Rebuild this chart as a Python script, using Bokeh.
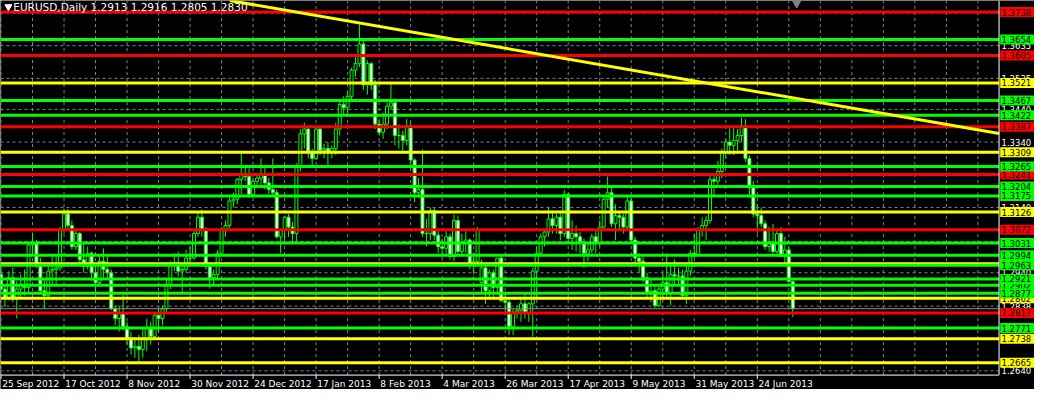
import numpy as np
from bokeh.plotting import figure
from bokeh.models import Range1d
from bokeh.core.properties import value
from bokeh.embed import file_html
from bokeh.resources import INLINE

# ---------------- data ----------------
title_text = "EURUSD,Daily  1.2913 1.2916 1.2805 1.2830"

opens = [1.2935, 1.2890, 1.2865, 1.2925, 1.2860, 1.2890, 1.2905, 1.2895, 1.3025, 1.3030,
         1.2960, 1.2885, 1.2870, 1.2945, 1.2950, 1.2955, 1.3070, 1.3120, 1.3085, 1.3020,
         1.3060, 1.2980, 1.2960, 1.3000, 1.2940, 1.2910, 1.2975, 1.2950, 1.2940, 1.2830,
         1.2800, 1.2815, 1.2775, 1.2740, 1.2710, 1.2715, 1.2705, 1.2740, 1.2770, 1.2745,
         1.2810, 1.2800, 1.2830, 1.2905, 1.2965, 1.2970, 1.2945, 1.2950, 1.2985, 1.2985,
         1.3060, 1.3110, 1.3070, 1.2960, 1.2925, 1.2935, 1.3000, 1.3070, 1.3085, 1.3160,
         1.3165, 1.3225, 1.3240, 1.3235, 1.3180, 1.3220, 1.3230, 1.3240, 1.3215, 1.3195,
         1.3185, 1.3050, 1.3070, 1.3110, 1.3080, 1.3060, 1.3265, 1.3365, 1.3380, 1.3310,
         1.3290, 1.3380, 1.3315, 1.3320, 1.3310, 1.3320, 1.3380, 1.3455, 1.3445, 1.3480,
         1.3560, 1.3580, 1.3640, 1.3515, 1.3580, 1.3515, 1.3395, 1.3370, 1.3395, 1.3450,
         1.3460, 1.3360, 1.3360, 1.3345, 1.3390, 1.3285, 1.3185, 1.3195, 1.3060, 1.3060,
         1.3130, 1.3055, 1.3020, 1.3015, 1.3050, 1.2990, 1.3100, 1.3005, 1.3030, 1.3040,
         1.2965, 1.2975, 1.2910, 1.2955, 1.2885, 1.2940, 1.2895, 1.2985, 1.2855, 1.2850,
         1.2775, 1.2820, 1.2825, 1.2845, 1.2815, 1.2845, 1.2945, 1.3000, 1.3050, 1.3065,
         1.3105, 1.3085, 1.3110, 1.3060, 1.3180, 1.3045, 1.3060, 1.3050, 1.3035, 1.3000,
         1.3010, 1.3050, 1.3030, 1.3080, 1.3165, 1.3185, 1.3090, 1.3115, 1.3110, 1.3080,
         1.3160, 1.3040, 1.2985, 1.2975, 1.2925, 1.2880, 1.2885, 1.2840, 1.2890, 1.2910,
         1.2875, 1.2935, 1.2930, 1.2930, 1.2870, 1.2945, 1.3000, 1.2995, 1.3070, 1.3085,
         1.3100, 1.3225, 1.3220, 1.3250, 1.3310, 1.3340, 1.3330, 1.3345, 1.3360, 1.3390,
         1.3290, 1.3200, 1.3120, 1.3115, 1.3090, 1.3020, 1.3030, 1.3005, 1.3060, 1.2990,
         1.3010, 1.2913]
highs = [1.2960, 1.2905, 1.2945, 1.2955, 1.2915, 1.2935, 1.2950, 1.3035, 1.3063, 1.3040,
         1.2985, 1.2920, 1.2965, 1.2990, 1.2990, 1.3080, 1.3136, 1.3135, 1.3100, 1.3070,
         1.3065, 1.3030, 1.3020, 1.3005, 1.2960, 1.2990, 1.3015, 1.2990, 1.2950, 1.2840,
         1.2840, 1.2880, 1.2790, 1.2760, 1.2740, 1.2750, 1.2770, 1.2800, 1.2790, 1.2820,
         1.2830, 1.2840, 1.2920, 1.2975, 1.3000, 1.3005, 1.2960, 1.3010, 1.3020, 1.3075,
         1.3125, 1.3133, 1.3080, 1.2970, 1.2950, 1.3010, 1.3080, 1.3100, 1.3170, 1.3185,
         1.3230, 1.3308, 1.3270, 1.3260, 1.3230, 1.3245, 1.3290, 1.3265, 1.3230, 1.3290,
         1.3195, 1.3075, 1.3115, 1.3120, 1.3095, 1.3275, 1.3380, 1.3400, 1.3390, 1.3320,
         1.3390, 1.3385, 1.3335, 1.3340, 1.3330, 1.3400, 1.3465, 1.3480, 1.3495, 1.3567,
         1.3600, 1.3700, 1.3650, 1.3590, 1.3585, 1.3530, 1.3410, 1.3430, 1.3460, 1.3518,
         1.3470, 1.3395, 1.3375, 1.3410, 1.3400, 1.3290, 1.3230, 1.3318, 1.3105, 1.3140,
         1.3140, 1.3075, 1.3045, 1.3070, 1.3060, 1.3118, 1.3115, 1.3060, 1.3075, 1.3045,
         1.3000, 1.3080, 1.2980, 1.2965, 1.2950, 1.2950, 1.2985, 1.2995, 1.2880, 1.2865,
         1.2830, 1.2840, 1.2860, 1.2880, 1.2850, 1.2955, 1.3020, 1.3060, 1.3075, 1.3140,
         1.3130, 1.3120, 1.3130, 1.3194, 1.3185, 1.3100, 1.3085, 1.3065, 1.3045, 1.3030,
         1.3060, 1.3070, 1.3100, 1.3170, 1.3235, 1.3200, 1.3150, 1.3130, 1.3120, 1.3175,
         1.3170, 1.3050, 1.3000, 1.2990, 1.2940, 1.2920, 1.2900, 1.2900, 1.2940, 1.3000,
         1.2960, 1.2980, 1.2955, 1.2950, 1.2960, 1.3010, 1.3060, 1.3080, 1.3110, 1.3115,
         1.3240, 1.3245, 1.3282, 1.3320, 1.3350, 1.3390, 1.3390, 1.3380, 1.3415, 1.3410,
         1.3300, 1.3220, 1.3150, 1.3140, 1.3100, 1.3080, 1.3090, 1.3070, 1.3080, 1.3050,
         1.3020, 1.2916]
lows = [1.2880, 1.2835, 1.2855, 1.2850, 1.2800, 1.2860, 1.2870, 1.2880, 1.2995, 1.2955,
        1.2880, 1.2830, 1.2860, 1.2900, 1.2900, 1.2945, 1.3060, 1.3070, 1.3010, 1.3010,
        1.2960, 1.2940, 1.2950, 1.2915, 1.2880, 1.2900, 1.2925, 1.2920, 1.2825, 1.2780,
        1.2760, 1.2765, 1.2720, 1.2690, 1.2680, 1.2665, 1.2680, 1.2700, 1.2720, 1.2735,
        1.2760, 1.2780, 1.2820, 1.2890, 1.2945, 1.2930, 1.2880, 1.2940, 1.2960, 1.2980,
        1.3050, 1.3050, 1.2950, 1.2891, 1.2900, 1.2920, 1.2990, 1.3050, 1.3075, 1.3140,
        1.3150, 1.3180, 1.3220, 1.3170, 1.3175, 1.3200, 1.3210, 1.3195, 1.3180, 1.3175,
        1.3045, 1.3000, 1.3040, 1.3050, 1.3030, 1.3030, 1.3250, 1.3320, 1.3290, 1.3265,
        1.3285, 1.3300, 1.3290, 1.3270, 1.3290, 1.3300, 1.3360, 1.3420, 1.3425, 1.3470,
        1.3540, 1.3570, 1.3500, 1.3485, 1.3500, 1.3380, 1.3360, 1.3350, 1.3380, 1.3440,
        1.3330, 1.3320, 1.3312, 1.3330, 1.3275, 1.3156, 1.3170, 1.3050, 1.3020, 1.3040,
        1.3040, 1.3000, 1.2985, 1.2990, 1.2980, 1.2975, 1.2990, 1.2990, 1.3000, 1.2950,
        1.2935, 1.2970, 1.2880, 1.2845, 1.2860, 1.2860, 1.2880, 1.2850, 1.2815, 1.2750,
        1.2750, 1.2800, 1.2790, 1.2800, 1.2790, 1.2744, 1.2860, 1.2990, 1.3020, 1.3050,
        1.3060, 1.3060, 1.3040, 1.3050, 1.3030, 1.3010, 1.3005, 1.3000, 1.2955, 1.2975,
        1.3000, 1.3000, 1.3020, 1.3070, 1.3140, 1.3080, 1.3040, 1.3070, 1.3060, 1.3070,
        1.3030, 1.2960, 1.2940, 1.2910, 1.2860, 1.2850, 1.2833, 1.2835, 1.2855, 1.2865,
        1.2840, 1.2905, 1.2905, 1.2860, 1.2845, 1.2930, 1.2985, 1.2990, 1.3050, 1.3040,
        1.3090, 1.3175, 1.3200, 1.3230, 1.3290, 1.3300, 1.3300, 1.3310, 1.3340, 1.3280,
        1.3170, 1.3110, 1.3060, 1.3080, 1.3010, 1.3005, 1.2990, 1.2990, 1.2990, 1.2960,
        1.2915, 1.2805]
closes = [1.2890, 1.2865, 1.2925, 1.2860, 1.2890, 1.2905, 1.2895, 1.3025, 1.3030, 1.2960,
          1.2885, 1.2870, 1.2945, 1.2950, 1.2955, 1.3070, 1.3120, 1.3085, 1.3020, 1.3060,
          1.2980, 1.2960, 1.3000, 1.2940, 1.2910, 1.2975, 1.2950, 1.2940, 1.2830, 1.2800,
          1.2815, 1.2775, 1.2740, 1.2710, 1.2715, 1.2705, 1.2740, 1.2770, 1.2745, 1.2810,
          1.2800, 1.2830, 1.2905, 1.2965, 1.2970, 1.2945, 1.2950, 1.2985, 1.2985, 1.3060,
          1.3110, 1.3070, 1.2960, 1.2925, 1.2935, 1.3000, 1.3070, 1.3085, 1.3160, 1.3165,
          1.3225, 1.3240, 1.3235, 1.3180, 1.3220, 1.3230, 1.3240, 1.3215, 1.3195, 1.3185,
          1.3050, 1.3070, 1.3110, 1.3080, 1.3060, 1.3265, 1.3365, 1.3380, 1.3310, 1.3290,
          1.3380, 1.3315, 1.3320, 1.3310, 1.3320, 1.3380, 1.3455, 1.3445, 1.3480, 1.3560,
          1.3580, 1.3640, 1.3515, 1.3580, 1.3515, 1.3395, 1.3370, 1.3395, 1.3450, 1.3460,
          1.3360, 1.3360, 1.3345, 1.3390, 1.3285, 1.3185, 1.3195, 1.3060, 1.3060, 1.3130,
          1.3055, 1.3020, 1.3015, 1.3050, 1.2990, 1.3100, 1.3005, 1.3030, 1.3040, 1.2965,
          1.2975, 1.3070, 1.2955, 1.2885, 1.2940, 1.2895, 1.2985, 1.2855, 1.2850, 1.2775,
          1.2820, 1.2825, 1.2845, 1.2815, 1.2845, 1.2945, 1.3000, 1.3050, 1.3065, 1.3105,
          1.3085, 1.3110, 1.3060, 1.3180, 1.3045, 1.3060, 1.3050, 1.3035, 1.3000, 1.3010,
          1.3050, 1.3030, 1.3080, 1.3165, 1.3185, 1.3090, 1.3115, 1.3110, 1.3080, 1.3160,
          1.3040, 1.2985, 1.2975, 1.2925, 1.2880, 1.2885, 1.2840, 1.2890, 1.2910, 1.2875,
          1.2935, 1.2930, 1.2930, 1.2870, 1.2945, 1.3000, 1.2995, 1.3070, 1.3085, 1.3100,
          1.3225, 1.3220, 1.3250, 1.3310, 1.3340, 1.3330, 1.3345, 1.3360, 1.3390, 1.3290,
          1.3200, 1.3120, 1.3115, 1.3090, 1.3020, 1.3030, 1.3005, 1.3060, 1.2990, 1.3010,
          1.2913, 1.2830]
bid_price = 1.2830

date_labels = ["25 Sep 2012", "17 Oct 2012", "8 Nov 2012", "30 Nov 2012", "24 Dec 2012",
               "17 Jan 2013", "8 Feb 2013", "4 Mar 2013", "26 Mar 2013", "17 Apr 2013",
               "9 May 2013", "31 May 2013", "24 Jun 2013"]
date_label_bars = [0, 16, 32, 48, 64, 80, 96, 112, 128, 144, 160, 176, 192]
grid_bar_step = 8

grid_prices = [1.2640, 1.2740, 1.2838, 1.2940, 1.3036, 1.3140, 1.3240, 1.3340,
               1.3440, 1.3535, 1.3635, 1.3735]
grid_labels = ["1.2640", "1.2740", "1.2838", "1.2940", "1.3036", "1.3140", "1.3240",
               "1.3340", "1.3440", "1.3535", "1.3635", "1.3735"]

# horizontal level objects, in drawing order
level_prices = [1.2968, 1.2902, 1.2862, 1.3241, 1.3738, 1.3654, 1.3605, 1.3521, 1.3467,
                1.3422, 1.3387, 1.3309, 1.3265, 1.3204, 1.3175, 1.3126, 1.3072, 1.3031,
                1.2994, 1.2963, 1.2921, 1.2877, 1.2817, 1.2771, 1.2738, 1.2665]
level_labels = ["1.2968", "1.2902", "1.2862", "1.3241", "1.3738", "1.3654", "1.3605",
                "1.3521", "1.3467", "1.3422", "1.3387", "1.3309", "1.3265", "1.3204",
                "1.3175", "1.3126", "1.3072", "1.3031", "1.2994", "1.2963", "1.2921",
                "1.2877", "1.2817", "1.2771", "1.2738", "1.2665"]
level_kinds = ["yellow", "lime", "yellow", "red", "red", "lime", "red", "yellow", "lime",
               "lime", "red", "yellow", "lime", "lime", "lime", "yellow", "red", "lime",
               "lime", "lime", "lime", "lime", "red", "lime", "yellow", "yellow"]

# trend line anchors (bar index, price)
trend_bars = [58.1, 253.4]
trend_prices = [1.3773, 1.3366]

# ---------------- styling / layout ----------------
PALETTE = {"red": "#FF0000", "lime": "#00FF00", "yellow": "#FFFF00"}
LIME = "#00FF00"
GRID = "#778899"
FONT = value("DejaVu Sans")

W, H = 1034, 389            # page area (window minus 8px margins)
REF_W, REF_H = 1050, 405    # original terminal picture size
BAR_PX, BAR0_PX = 4.0, 0.5  # MT4 scale: 4 px per bar
PX_PER_PRICE, PRICE_AT, PRICE_AT_Y = 3402.0, 1.3738, 12.0


def bx(xr):
    return (xr - BAR0_PX) / BAR_PX


def py(yr):
    return PRICE_AT - (yr - PRICE_AT_Y) / PX_PER_PRICE


AX_X = bx(1014)     # right price-axis line
AX_Y = py(390)      # bottom time-axis line
X_START = bx(0)
X_END = bx(REF_W)
TOP = py(0)

p = figure(width=W, height=H,
           x_range=Range1d(X_START, X_END), y_range=Range1d(py(REF_H), TOP),
           toolbar_location=None, output_backend="svg",
           x_axis_location=None, y_axis_location=None,
           min_border=0, min_border_left=0, min_border_right=0,
           min_border_top=0, min_border_bottom=0,
           background_fill_color="black", border_fill_color="black",
           outline_line_color=None)
p.grid.visible = False

# grid
gx = list(range(0, int(AX_X) + 1, grid_bar_step))
p.segment(x0=gx, y0=[AX_Y] * len(gx), x1=gx, y1=[TOP] * len(gx),
          line_color=GRID, line_width=1, line_dash="3 3")
p.segment(x0=[X_START] * len(grid_prices), y0=grid_prices,
          x1=[AX_X] * len(grid_prices), y1=grid_prices,
          line_color=GRID, line_width=1, line_dash="3 3")

# candles
o = np.array(opens); h = np.array(highs); l = np.array(lows); c = np.array(closes)
idx = np.arange(len(o))
bull = c >= o
p.segment(x0=idx, y0=l, x1=idx, y1=h, line_color=LIME, line_width=1)
p.vbar(x=idx[bull], width=0.75, top=c[bull], bottom=o[bull],
       fill_color="black", line_color=LIME, line_width=1)
p.vbar(x=idx[~bull], width=0.75, top=o[~bull], bottom=c[~bull],
       fill_color="white", line_color=LIME, line_width=1)

# bid line
p.segment(x0=[X_START], y0=[bid_price], x1=[AX_X], y1=[bid_price],
          line_color="#909090", line_width=1)

# horizontal level lines
n = len(level_prices)
p.segment(x0=[X_START] * n, y0=level_prices, x1=[AX_X] * n, y1=level_prices,
          line_color=[PALETTE[k] for k in level_kinds], line_width=3)

# trend line
p.line(trend_bars, trend_prices, line_color="#FFFF00", line_width=3)

# axes lines and ticks
p.segment(x0=[AX_X], y0=[AX_Y], x1=[AX_X], y1=[TOP], line_color="white", line_width=1)
p.segment(x0=[X_START], y0=[AX_Y], x1=[AX_X], y1=[AX_Y], line_color="white", line_width=1)
p.segment(x0=date_label_bars, y0=[AX_Y] * len(date_label_bars),
          x1=date_label_bars, y1=[py(394)] * len(date_label_bars),
          line_color="white", line_width=1)

# time labels
p.text(x=[b + 0.3 for b in date_label_bars], y=[py(399.5)] * len(date_label_bars),
       text=date_labels, text_color="white", text_font=FONT, text_font_size="9px",
       text_align="left", text_baseline="middle")

# price grid labels
p.text(x=[bx(1016.5)] * len(grid_prices), y=grid_prices, text=grid_labels,
       text_color="white", text_font=FONT, text_font_size="8.5px",
       text_align="left", text_baseline="middle")

# level price tags
half = 5.2 / PX_PER_PRICE
for price, lab, kind in zip(level_prices, level_labels, level_kinds):
    p.quad(left=[bx(1015.2)], right=[X_END], top=[price + half], bottom=[price - half],
           fill_color=PALETTE[kind], line_color=None)
    p.text(x=[bx(1016.5)], y=[price], text=[lab], text_color="black", text_font=FONT,
           text_font_size="8.5px", text_align="left", text_baseline="middle")

# title
p.scatter(x=[bx(8)], y=[py(6.5)], marker="inverted_triangle", size=7,
          fill_color="white", line_color="white")
p.text(x=[bx(13)], y=[py(7)], text=[title_text], text_color="white", text_font=FONT,
       text_font_size="10.5px", text_align="left", text_baseline="middle")

# chart-shift marker
p.scatter(x=[len(opens)], y=[py(3)], marker="inverted_triangle", size=8,
          fill_color="#808080", line_color="#808080")

open("out.html", "w").write(file_html(p, INLINE))
